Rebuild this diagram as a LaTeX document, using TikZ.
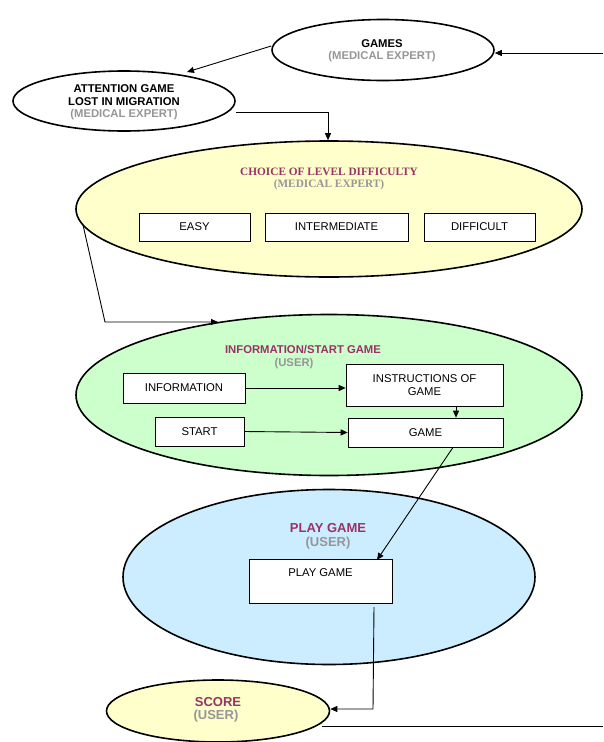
\documentclass[tikz,border=0pt]{standalone}
\usepackage{fontspec}
\setmainfont{Liberation Sans}
\newfontfamily\timesfont{Liberation Serif}
\usetikzlibrary{shapes.geometric,arrows.meta}
\definecolor{headred}{HTML}{993366}
\definecolor{rolegray}{HTML}{969696}
\definecolor{paleyellow}{HTML}{FFFFCC}
\definecolor{palegreen}{HTML}{CCFFCC}
\definecolor{paleblue}{HTML}{CCECFF}
\tikzset{
  x=1pt, y=-1pt,
  bubble/.style={ellipse, draw, line width=1.6pt, inner sep=0pt},
  itembox/.style={rectangle, draw, line width=0.7pt, fill=white, inner sep=0pt,
    font=\fontsize{11.3}{13}\selectfont, align=center},
  flow/.style={line width=0.9pt, -{Triangle[length=7pt,width=6pt]}},
  plain/.style={line width=0.9pt},
  lbl/.style={font=\fontsize{11.3}{13}\selectfont\bfseries, inner sep=0pt},
  serif lbl/.style={font=\timesfont\fontsize{11.3}{13}\selectfont\bfseries, inner sep=0pt},
  big lbl/.style={font=\fontsize{13}{14}\selectfont\bfseries, inner sep=0pt},
}
\begin{document}
\begin{tikzpicture}
\useasboundingbox (0,0) rectangle (603,742);

% ellipses
\node[bubble, minimum width=222, minimum height=61] (games) at (383,50) {};
\node[bubble, minimum width=222, minimum height=60] (attn) at (124,101) {};
\node[bubble, fill=paleyellow, minimum width=506, minimum height=136] (choice) at (329,209) {};
\node[bubble, fill=palegreen, minimum width=506, minimum height=161] (info) at (329,395) {};
\node[bubble, fill=paleblue, minimum width=412, minimum height=175] (play) at (329,577) {};
\node[bubble, fill=paleyellow, minimum width=223, minimum height=62] (score) at (218,711) {};

% ellipse captions
\node[lbl] (gamesT) at (382,44) {GAMES};
\node[lbl, text=rolegray] (gamesR) at (382,57) {(MEDICAL EXPERT)};
\node[lbl] (attnT1) at (124,89) {ATTENTION GAME};
\node[lbl] (attnT2) at (124,102) {LOST IN MIGRATION};
\node[lbl, text=rolegray] (attnR) at (124,115) {(MEDICAL EXPERT)};
\node[serif lbl, text=headred] (choiceT) at (329,172) {CHOICE OF LEVEL DIFFICULTY};
\node[serif lbl, text=rolegray] (choiceR) at (329,185) {(MEDICAL EXPERT)};
\node[lbl, text=headred] (infoT) at (303,350) {INFORMATION/START GAME};
\node[lbl, text=rolegray] (infoR) at (294,364) {(USER)};
\node[big lbl, text=headred] (playT) at (328,528) {PLAY GAME};
\node[big lbl, text=rolegray] (playR) at (328,543) {(USER)};
\node[big lbl, text=headred] (scoreT) at (218,702) {SCORE};
\node[big lbl, text=rolegray] (scoreR) at (216,716) {(USER)};

% boxes
\node[itembox, minimum width=111, minimum height=28] (easy) at (194.5,227) {EASY};
\node[itembox, minimum width=143, minimum height=28] (inter) at (336.5,227) {INTERMEDIATE};
\node[itembox, minimum width=111, minimum height=28] (diff) at (479.5,227) {DIFFICULT};
\node[itembox, minimum width=122, minimum height=30] (infobox) at (184,388) {INFORMATION};
\node[itembox, minimum width=157, minimum height=42] (instr) at (424.5,385) {INSTRUCTIONS OF\\GAME};
\node[itembox, minimum width=89, minimum height=29] (start) at (199.5,431.5) {START};
\node[itembox, minimum width=155, minimum height=29] (game) at (425.5,432.5) {GAME};
\node[itembox, minimum width=143, minimum height=44, anchor=north] (playbox) at (320.5,559) {};
\node[font=\fontsize{11.3}{13}\selectfont, inner sep=0pt] (playboxT) at (320.5,573) {PLAY GAME};

% free ends of the connectors at the page edge
\coordinate (inR) at (603,53);
\coordinate (outR) at (603,726);

% connectors
\draw[flow] (inR) -- (games.east |- inR);
\draw[flow] (games.west |- 0,46) -- (187,72);
\draw[flow] (attn.east |- 0,112) -- (328,112) -- (choice.north -| 328,0);
\draw[flow] (83,225) -- (105,322) -- (218,322);
\draw[flow] (infobox.east) -- (instr.west |- infobox.east);
\draw[flow] (start.east) -- (game.west);
\draw[flow] (instr.south -| 456,0) -- (game.north -| 456,0);
\draw[flow] (game.south -| 453,0) -- (377,560);
\draw[flow] (374,607) -- (373,709) -- (score.east |- 0,709);
\draw[plain] (322,726) -- (outR);
\end{tikzpicture}
\end{document}
